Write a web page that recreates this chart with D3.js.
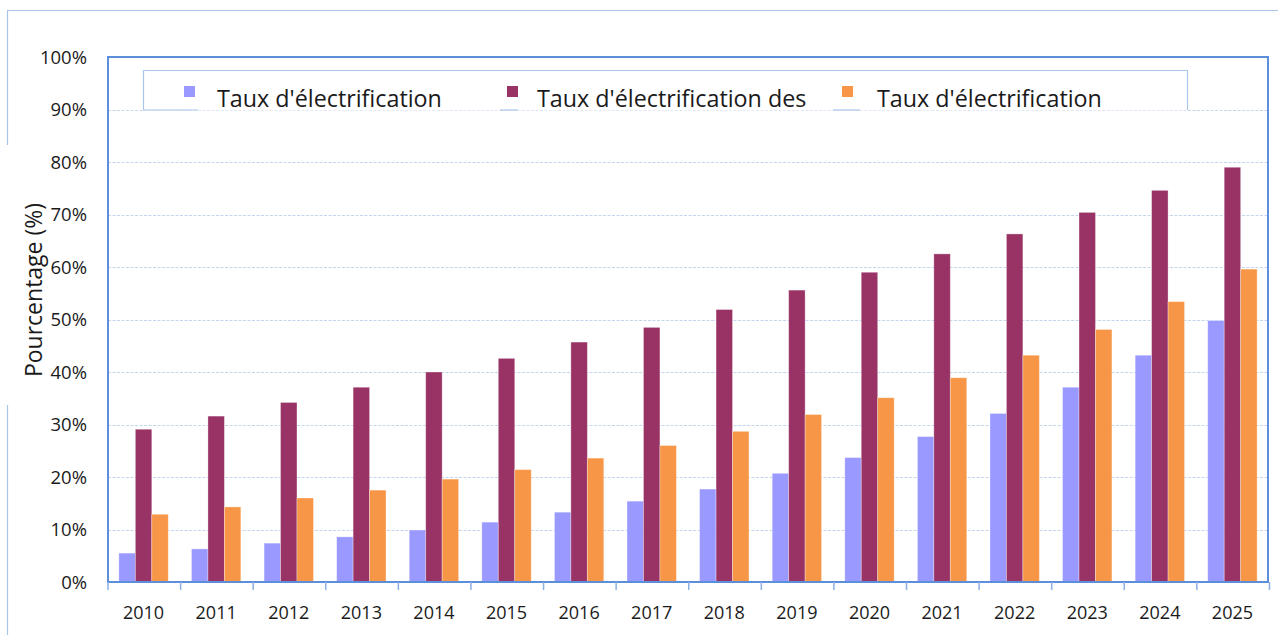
<!DOCTYPE html>
<html>
<head>
<meta charset="utf-8">
<script src="https://d3js.org/d3.v7.min.js"></script>
<style>
  body { margin: 0; background: #fff; }
  text { font-family: 'Open Sans', sans-serif; fill: #1a1a1a; }
</style>
</head>
<body>
<script>
  // data
  const years = ['2010','2011','2012','2013','2014','2015','2016','2017',
                 '2018','2019','2020','2021','2022','2023','2024','2025'];
  const seriesNames = ["Taux d'électrification", "Taux d'électrification des", "Taux d'électrification"];
  const seriesColors = ['#9999ff', '#993366', '#f79646'];
  const tauxNational = [5.5, 6.3, 7.4, 8.6, 9.9, 11.4, 13.3, 15.4, 17.7, 20.7, 23.7, 27.7, 32.1, 37.1, 43.2, 49.8];
  const tauxUrbain   = [29.1, 31.6, 34.2, 37.1, 40.0, 42.6, 45.7, 48.5, 51.9, 55.6, 59.0, 62.5, 66.3, 70.4, 74.6, 79.0];
  const tauxMenages  = [12.9, 14.3, 16.0, 17.5, 19.6, 21.4, 23.6, 26.0, 28.7, 31.9, 35.1, 38.9, 43.2, 48.1, 53.4, 59.6];
  const yTicks = [0, 10, 20, 30, 40, 50, 60, 70, 80, 90, 100];

  const series = [tauxNational, tauxUrbain, tauxMenages];

  const width = 1278, height = 643;
  const plot = { left: 108, right: 1268, top: 57, bottom: 582 };

  const svg = d3.select('body').append('svg')
    .attr('width', width)
    .attr('height', height);

  // outer chart frame (top and broken left edge)
  const frameCol = '#a9c5ea';
  svg.append('line').attr('x1', 7).attr('x2', width).attr('y1', 10.5).attr('y2', 10.5)
    .attr('stroke', frameCol).attr('stroke-width', 1.2);
  svg.append('line').attr('x1', 7.5).attr('x2', 7.5).attr('y1', 10).attr('y2', 145)
    .attr('stroke', frameCol).attr('stroke-width', 1.2);
  svg.append('line').attr('x1', 7.5).attr('x2', 7.5).attr('y1', 405).attr('y2', 635)
    .attr('stroke', frameCol).attr('stroke-width', 1.2);

  const x = d3.scaleBand()
    .domain(years)
    .range([plot.left, plot.right])
    .paddingInner(0.32)
    .paddingOuter(0.15);

  const xSub = d3.scaleBand()
    .domain(d3.range(series.length))
    .range([0, x.bandwidth()]);

  const y = d3.scaleLinear()
    .domain([0, 100])
    .range([plot.bottom, plot.top]);

  // gridlines
  svg.append('g')
    .selectAll('line')
    .data(yTicks.filter(d => d > 0 && d < 100))
    .enter()
    .append('line')
    .attr('x1', plot.left)
    .attr('x2', plot.right)
    .attr('y1', d => Math.round(y(d)) + 0.5)
    .attr('y2', d => Math.round(y(d)) + 0.5)
    .attr('stroke', '#c4d5ee')
    .attr('stroke-dasharray', '3,1.5');

  // y tick labels
  svg.append('g')
    .selectAll('text')
    .data(yTicks)
    .enter()
    .append('text')
    .attr('x', 87)
    .attr('y', d => y(d))
    .attr('dy', '0.36em')
    .attr('text-anchor', 'end')
    .style('font-size', '18.5px')
    .text(d => d + '%');

  // bars
  const groups = svg.append('g')
    .selectAll('g')
    .data(years)
    .enter()
    .append('g')
    .attr('transform', d => `translate(${x(d)},0)`);

  groups.selectAll('rect')
    .data((d, i) => series.map((s, k) => ({ k: k, v: s[i] })))
    .enter()
    .append('rect')
    .attr('x', d => xSub(d.k))
    .attr('width', xSub.bandwidth())
    .attr('y', d => y(d.v))
    .attr('height', d => y(0) - y(d.v))
    .attr('fill', d => seriesColors[d.k])
    .attr('stroke', '#ffffff')
    .attr('stroke-opacity', 0.4)
    .attr('stroke-width', 0.8);

  // plot frame
  const axisCol = '#5b8fd9';
  svg.append('rect')
    .attr('x', plot.left)
    .attr('y', plot.top)
    .attr('width', plot.right - plot.left)
    .attr('height', plot.bottom - plot.top)
    .attr('fill', 'none')
    .attr('stroke', axisCol)
    .attr('stroke-width', 2);

  // x ticks at category boundaries
  const boundaries = d3.range(years.length + 1).map(i => plot.left + i * x.step());
  svg.append('g')
    .selectAll('line')
    .data(boundaries)
    .enter()
    .append('line')
    .attr('x1', d => d)
    .attr('x2', d => d)
    .attr('y1', plot.bottom)
    .attr('y2', plot.bottom + 8)
    .attr('stroke', '#8db0e3')
    .attr('stroke-width', 1.5);

  // x tick labels
  svg.append('g')
    .selectAll('text')
    .data(years)
    .enter()
    .append('text')
    .attr('x', d => x(d) + x.bandwidth() / 2)
    .attr('y', 619)
    .attr('text-anchor', 'middle')
    .style('font-size', '18px')
    .text(d => d);

  // y axis title
  svg.append('text')
    .attr('transform', 'translate(42,290) rotate(-90)')
    .attr('text-anchor', 'middle')
    .style('font-size', '23px')
    .text('Pourcentage (%)');

  // legend
  const legCol = '#a9c5ea';
  const legend = svg.append('g');
  legend.append('rect')
    .attr('x', 143.5).attr('y', 70.5)
    .attr('width', 1187 - 143.5).attr('height', 40)
    .attr('fill', '#fff').attr('stroke', 'none');
  legend.append('path')
    .attr('d', 'M143.5,110 V70.5 H1187.5 V110')
    .attr('fill', 'none')
    .attr('stroke', legCol)
    .attr('stroke-width', 1.2);

  const legendItems = [
    { marker: 184, text: 217, under: [143, 198] },
    { marker: 507, text: 537, under: [500, 518] },
    { marker: 842, text: 877, under: [833, 860] }
  ];

  legendItems.forEach((it, k) => {
    legend.append('line')
      .attr('x1', it.under[0]).attr('x2', it.under[1])
      .attr('y1', 110).attr('y2', 110)
      .attr('stroke', legCol).attr('stroke-width', 1.2);
    legend.append('rect')
      .attr('x', it.marker).attr('y', 86)
      .attr('width', 11).attr('height', 11)
      .attr('fill', seriesColors[k]);
    legend.append('text')
      .attr('x', it.text).attr('y', 107)
      .style('font-size', '23.3px')
      .text(seriesNames[k]);
  });
</script>
</body>
</html>
